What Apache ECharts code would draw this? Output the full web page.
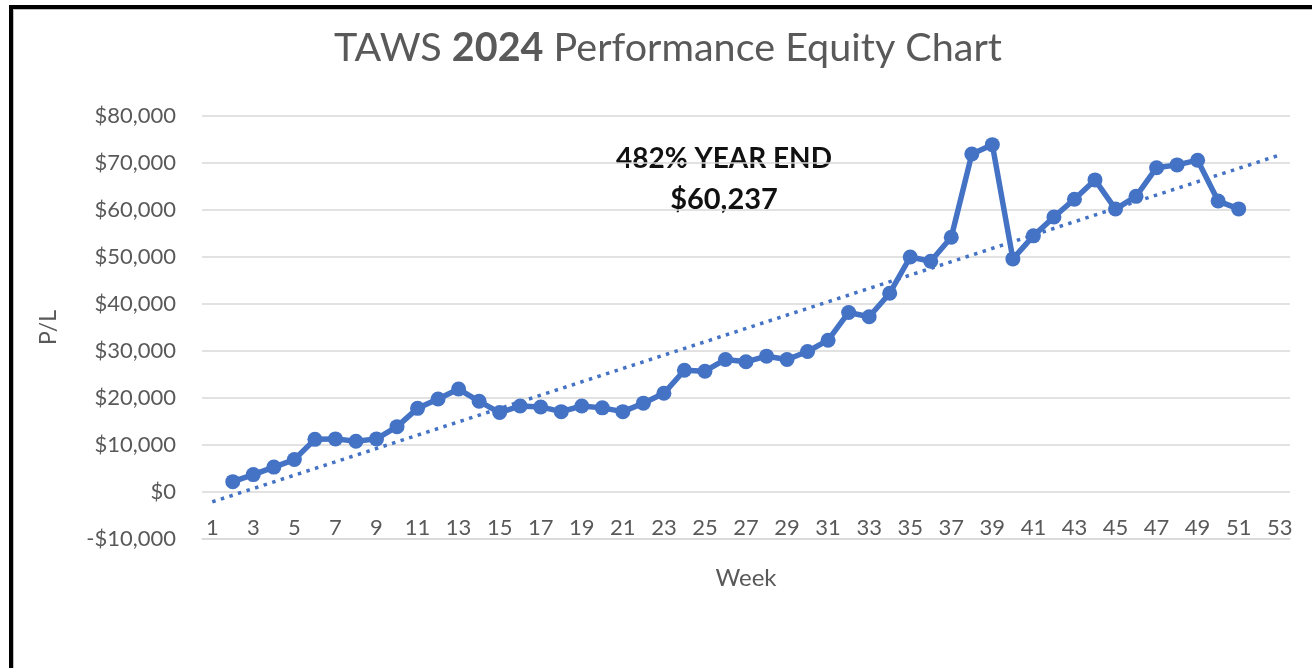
<!DOCTYPE html>
<html>
<head>
<meta charset="utf-8">
<title>TAWS 2024 Performance Equity Chart</title>
<script src="https://cdn.jsdelivr.net/npm/echarts@6/dist/echarts.min.js"></script>
<style>
    html, body { margin: 0; padding: 0; background: #fff; }
    #chart { width: 1312px; height: 668px; }
</style>
</head>
<body>
<div id="chart"></div>
<script>
// weeks on the category axis (1..53)
var weeks = ['1','2','3','4','5','6','7','8','9','10','11','12','13','14','15','16','17','18','19','20',
    '21','22','23','24','25','26','27','28','29','30','31','32','33','34','35','36','37','38','39','40',
    '41','42','43','44','45','46','47','48','49','50','51','52','53'];

// weekly P/L, week 1 and weeks 52-53 have no value
var equity = [null, 2200, 3700, 5300, 6900, 11200, 11300, 10800, 11300, 13900,
    17800, 19800, 21900, 19300, 16900, 18300, 18100, 17100, 18300, 17900,
    17100, 18900, 21000, 25900, 25700, 28200, 27700, 28900, 28200, 29900,
    32300, 38200, 37300, 42300, 50000, 49100, 54200, 71900, 73900, 49600,
    54500, 58500, 62300, 66400, 60200, 62900, 69000, 69600, 70600, 61900,
    60237, null, null];

// linear trendline ends, read at week 1 and week 53
var trendWeeks = ['1', '53'];
var trendValues = [-2100, 71700];

var yTicks = { min: -10000, max: 80000, step: 10000 };

var chart = echarts.init(document.getElementById('chart'));
var textColor = '#595959';
var font = 'Lato, "Open Sans", sans-serif';
var blue = '#4472C4';

var option = {
    backgroundColor: '#fff',
    animation: false,
    title: {
        text: '{a|TAWS }{b|2024}{a| Performance Equity Chart}',
        left: 663,
        textAlign: 'center',
        top: 23,
        textStyle: {
            rich: {
                a: { fontFamily: font, fontSize: 39.5, color: textColor, fontWeight: 'normal' },
                b: { fontFamily: font, fontSize: 39.5, color: textColor, fontWeight: 'bold' }
            }
        }
    },
    grid: { left: 202, right: 22, top: 116, bottom: 129 },
    xAxis: {
        type: 'category',
        data: weeks,
        boundaryGap: true,
        name: 'Week',
        nameLocation: 'middle',
        nameGap: 27,
        nameTextStyle: { fontFamily: font, fontSize: 24, color: textColor },
        // labels sit just under the $0 line, like Excel's axis crossing at zero
        axisLine: { onZero: false, lineStyle: { color: '#d9d9d9', width: 1.5 } },
        axisTick: { show: false },
        axisLabel: { interval: 1, margin: -22, fontFamily: font, fontSize: 22, color: textColor }
    },
    yAxis: {
        type: 'value',
        min: yTicks.min,
        max: yTicks.max,
        interval: yTicks.step,
        name: 'P/L',
        nameLocation: 'middle',
        nameGap: 142,
        nameTextStyle: { fontFamily: font, fontSize: 23, color: textColor },
        axisLine: { show: false },
        axisTick: { show: false },
        splitLine: { lineStyle: { color: '#d9d9d9', width: 1.5 } },
        axisLabel: {
            margin: 26,
            fontFamily: font,
            fontSize: 22,
            color: textColor,
            formatter: function (v) {
                var s = '$' + Math.abs(v).toLocaleString('en-US');
                return v < 0 ? '-' + s : s;
            }
        }
    },
    graphic: [
        { type: 'rect', shape: { x: 9, y: 5, width: 4, height: 663 }, style: { fill: '#000' } },
        { type: 'rect', shape: { x: 9, y: 5, width: 1303, height: 4 }, style: { fill: '#000' } },
        { type: 'rect', shape: { x: 13, y: 9, width: 1, height: 659 }, style: { fill: '#bfbfbf' } },
        { type: 'rect', shape: { x: 13, y: 9, width: 1299, height: 1 }, style: { fill: '#bfbfbf' } },
        {
            type: 'text', x: 724, y: 159,
            style: {
                text: '482% YEAR END', textAlign: 'center', textVerticalAlign: 'middle',
                fontFamily: font, fontSize: 28, fontWeight: 'bold', fill: '#111'
            }
        },
        {
            type: 'text', x: 724, y: 200,
            style: {
                text: '$60,237', textAlign: 'center', textVerticalAlign: 'middle',
                fontFamily: font, fontSize: 29, fontWeight: 'bold', fill: '#111'
            }
        }
    ],
    series: [
        {
            name: 'Trend',
            type: 'line',
            data: trendWeeks.map(function (w, i) { return [w, trendValues[i]]; }),
            symbol: 'none',
            silent: true,
            lineStyle: { color: blue, width: 3.5, type: [3.5, 5.5] },
            z: 1
        },
        {
            name: 'P/L',
            type: 'line',
            data: equity,
            symbol: 'circle',
            symbolSize: 15,
            showAllSymbol: true,
            itemStyle: { color: blue },
            lineStyle: { color: blue, width: 5.5 },
            z: 2
        }
    ]
};

chart.setOption(option);
</script>
</body>
</html>
